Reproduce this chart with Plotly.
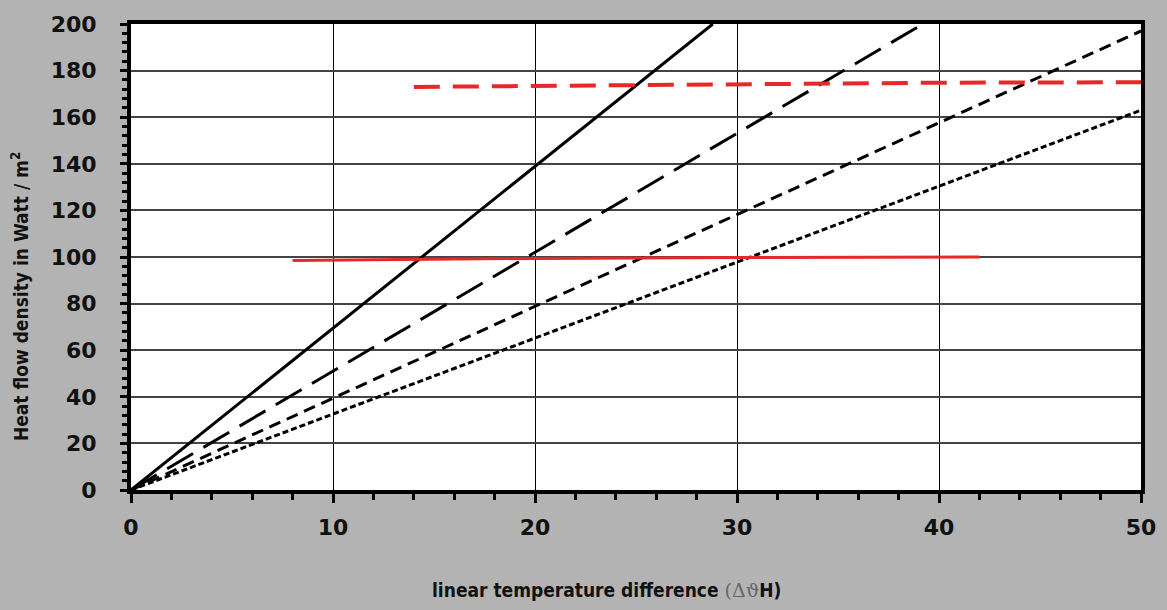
import plotly.graph_objects as go

# temperature difference (x) and heat flow density (y) for each curve
solid_x = [0, 28.8]
solid_y = [0, 200]
longdash_x = [0, 39.2]
longdash_y = [0, 200]
meddash_x = [0, 50]
meddash_y = [0, 197]
shortdash_x = [0, 50]
shortdash_y = [0, 163]

red_dash_x = [14, 20, 30, 40, 50]
red_dash_y = [173, 173.5, 174.3, 174.8, 175]
red_solid_x = [8, 20, 30, 42]
red_solid_y = [98.5, 99.4, 99.8, 100]

x_ticks = [0, 10, 20, 30, 40, 50]
y_ticks = [0, 20, 40, 60, 80, 100, 120, 140, 160, 180, 200]

fig = go.Figure()

fig.add_trace(go.Scatter(x=solid_x, y=solid_y, mode='lines',
                         line=dict(color='black', width=3)))
fig.add_trace(go.Scatter(x=longdash_x, y=longdash_y, mode='lines',
                         line=dict(color='black', width=3, dash='30px,12px')))
fig.add_trace(go.Scatter(x=meddash_x, y=meddash_y, mode='lines',
                         line=dict(color='black', width=3, dash='12px,7px')))
fig.add_trace(go.Scatter(x=shortdash_x, y=shortdash_y, mode='lines',
                         line=dict(color='black', width=3, dash='6px,3px')))
fig.add_trace(go.Scatter(x=red_dash_x, y=red_dash_y, mode='lines',
                         line=dict(color='#e62828', width=4, dash='26px,13px')))
fig.add_trace(go.Scatter(x=red_solid_x, y=red_solid_y, mode='lines',
                         line=dict(color='#e62828', width=3)))

tick_font = dict(family='DejaVu Sans', size=22, color='#111111', weight='bold')
title_font = dict(family='DejaVu Sans Condensed', size=19, color='#111111')

fig.update_layout(
    width=1167, height=610,
    margin=dict(l=131, r=26, t=24, b=120),
    paper_bgcolor='#b3b3b3',
    plot_bgcolor='white',
    showlegend=False,
    xaxis=dict(
        range=[0, 50], tickvals=x_ticks,
        showline=True, linecolor='black', linewidth=4, mirror=True,
        showgrid=True, gridcolor='black', gridwidth=1,
        ticks='outside', ticklen=9, tickwidth=3, tickcolor='black',
        minor=dict(dtick=2, ticks='outside', ticklen=6, tickwidth=3, tickcolor='black', showgrid=False),
        tickfont=tick_font, ticklabelstandoff=6,
        zeroline=False,
    ),
    yaxis=dict(
        range=[0, 200], tickvals=y_ticks,
        showline=True, linecolor='black', linewidth=4, mirror=True,
        showgrid=True, gridcolor='#444444', gridwidth=1.5,
        ticks='outside', ticklen=7, tickwidth=3, tickcolor='black',
        minor=dict(dtick=4, ticks='outside', ticklen=5, tickwidth=3, tickcolor='black', showgrid=False),
        tickfont=tick_font, ticklabelstandoff=19,
        zeroline=False,
    ),
)

# axis titles as annotations so they sit where the original has them
fig.add_annotation(
    text="<b>linear temperature difference </b><span style='color:#666666;font-family:DejaVu Serif'>(Δϑ</span><b>H)</b>",
    xref='paper', yref='paper', x=0.471, y=-0.2146,
    xanchor='center', yanchor='middle', showarrow=False, font=title_font)
fig.add_annotation(
    text="<b>Heat flow density in Watt / m<sup>2</sup></b>",
    xref='paper', yref='paper', x=0, xshift=-111, y=0.414,
    xanchor='center', yanchor='middle', textangle=-90, showarrow=False, font=title_font)

fig.write_html("out.html", config={'displayModeBar': False},
               post_script="document.body.style.margin='0';document.body.style.background='#b3b3b3';")
